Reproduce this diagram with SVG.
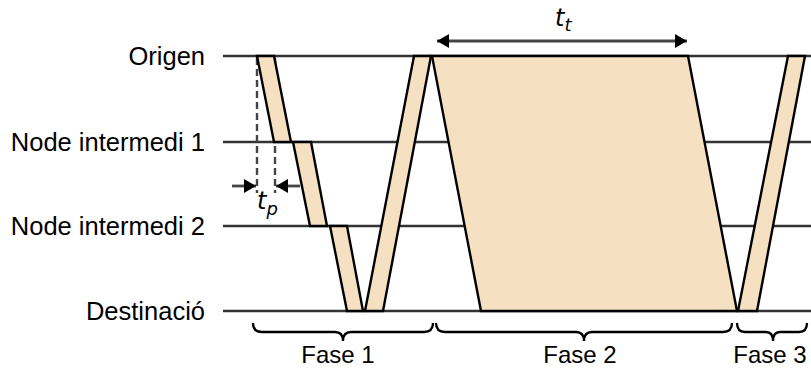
<svg xmlns="http://www.w3.org/2000/svg" width="811" height="369" viewBox="0 0 811 369">
<style>
.lbl{font-family:"Liberation Sans",Arial,sans-serif;font-size:25.5px;fill:#000}
.fase{font-family:"Liberation Sans",Arial,sans-serif;font-size:24px;fill:#000;text-anchor:middle}
.ital{font-family:"DejaVu Sans","Liberation Sans",sans-serif;font-style:italic;fill:#000}
.tl{stroke:#333;stroke-width:2.6;fill:none}
.pk{fill:#F5E0C1;stroke:#000;stroke-width:2.4;stroke-linejoin:miter}
.dash{stroke:#444;stroke-width:2.4;stroke-dasharray:7,4;fill:none}
.shaft{stroke:#444;stroke-width:2.8;fill:none}
.brace{stroke:#000;stroke-width:2.3;fill:none}
</style>
<defs>
<marker id="ah" viewBox="0 0 12 14" refX="12" refY="7" markerWidth="12" markerHeight="14" markerUnits="userSpaceOnUse" orient="auto">
<path d="M0,0 L12,7 L0,14 Z" fill="#000"/>
</marker>
</defs>
<g id="labels">
<text class="lbl" x="205" y="65" text-anchor="end">Origen</text>
<text class="lbl" x="205" y="151" text-anchor="end">Node intermedi 1</text>
<text class="lbl" x="205" y="235" text-anchor="end">Node intermedi 2</text>
<text class="lbl" x="205" y="320" text-anchor="end">Destinació</text>
</g>
<g id="timelines">
<line class="tl" x1="223" y1="56" x2="811" y2="56"/>
<line class="tl" x1="223" y1="142" x2="811" y2="142"/>
<line class="tl" x1="223" y1="226" x2="811" y2="226"/>
<line class="tl" x1="223" y1="311" x2="811" y2="311"/>
</g>
<g id="tp-guides">
<line class="dash" x1="257" y1="58" x2="257" y2="193"/>
<line class="dash" x1="275" y1="58" x2="275" y2="193"/>
</g>
<g id="packets">
<polygon id="p1" class="pk" points="257,56 274,56 291,142 274,142"/>
<polygon id="p2" class="pk" points="293,142 311,142 327,226 310,226"/>
<polygon id="p3" class="pk" points="330,226 347,226 363,311 347,311"/>
<polygon id="ack" class="pk" points="365,311 383,311 431,56 414,56"/>
<polygon id="fase2" class="pk" points="432,56 688,56 737,311 481,311"/>
<polygon id="fase3" class="pk" points="738,311 757,311 805,56 788,56"/>
</g>
<g id="connectors">
<line class="shaft" x1="232" y1="186" x2="256" y2="186" marker-end="url(#ah)"/>
<line class="shaft" x1="300" y1="186" x2="276" y2="186" marker-end="url(#ah)"/>
<line class="shaft" x1="562" y1="41" x2="437" y2="41" marker-end="url(#ah)"/>
<line class="shaft" x1="562" y1="41" x2="687" y2="41" marker-end="url(#ah)"/>
</g>
<g id="time-labels">
<text class="ital" x="257" y="209" font-size="24">t<tspan font-size="18" dy="6">p</tspan></text>
<text class="ital" x="555" y="26" font-size="24">t<tspan font-size="18" dy="5">t</tspan></text>
</g>
<g id="braces">
<path class="brace" d="M253,323 Q253,332 262,332 L335,332 Q343,332 343,341 Q343,332 351,332 L424,332 Q433,332 433,323"/>
<path class="brace" d="M436,323 Q436,332 445,332 L576,332 Q584,332 584,341 Q584,332 592,332 L723,332 Q732,332 732,323"/>
<path class="brace" d="M737,323 Q737,332 745,332 L766,332 Q773,332 773,341 Q773,332 780,332 L799,332 Q807,332 807,323"/>
<text class="fase" x="338" y="363">Fase 1</text>
<text class="fase" x="580" y="363">Fase 2</text>
<text class="fase" x="770" y="363">Fase 3</text>
</g>
</svg>
